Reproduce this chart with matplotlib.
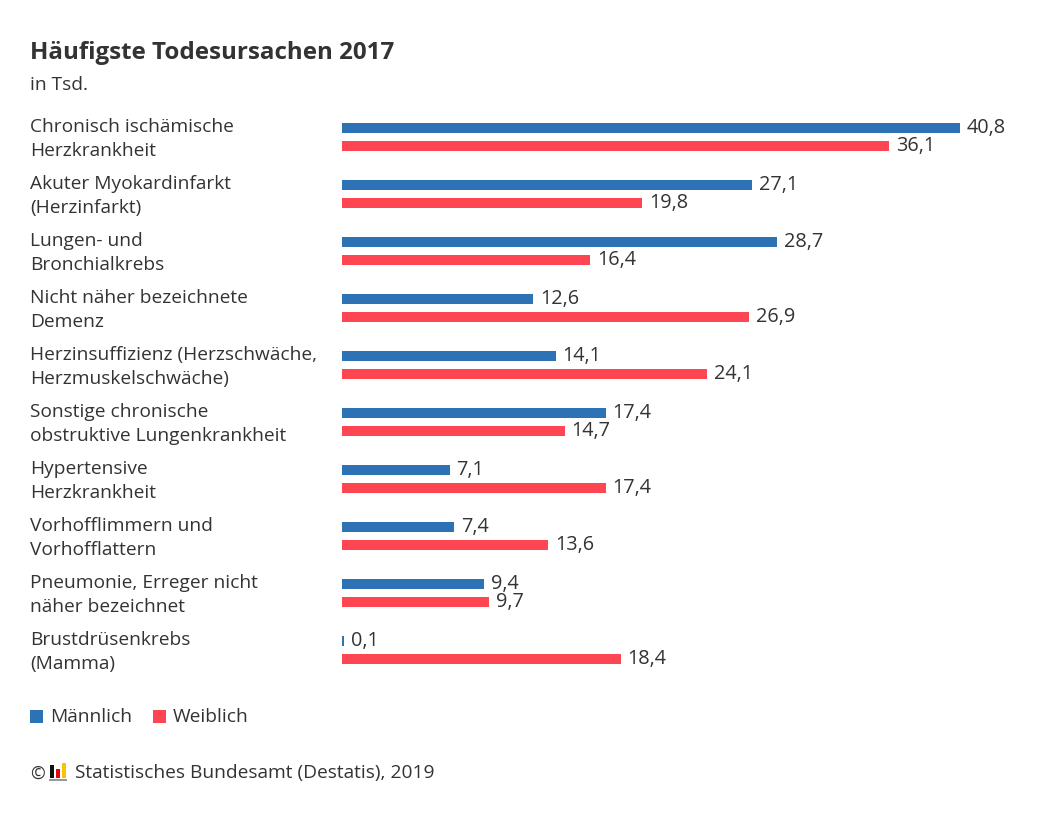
import matplotlib
matplotlib.use("Agg")
import matplotlib.pyplot as plt
import matplotlib.transforms as mtransforms
from matplotlib.patches import Rectangle

categories = [
    "Chronisch ischämische\nHerzkrankheit",
    "Akuter Myokardinfarkt\n(Herzinfarkt)",
    "Lungen- und\nBronchialkrebs",
    "Nicht näher bezeichnete\nDemenz",
    "Herzinsuffizienz (Herzschwäche,\nHerzmuskelschwäche)",
    "Sonstige chronische\nobstruktive Lungenkrankheit",
    "Hypertensive\nHerzkrankheit",
    "Vorhofflimmern und\nVorhofflattern",
    "Pneumonie, Erreger nicht\nnäher bezeichnet",
    "Brustdrüsenkrebs\n(Mamma)",
]
maennlich = [40.8, 27.1, 28.7, 12.6, 14.1, 17.4, 7.1, 7.4, 9.4, 0.1]
weiblich = [36.1, 19.8, 16.4, 26.9, 24.1, 14.7, 17.4, 13.6, 9.7, 18.4]

BLUE = "#2e72b6"
RED = "#fd4651"
TXT = "#333333"
FONT = "Open Sans"
plt.rcParams['font.family'] = [FONT, 'DejaVu Sans']

W, H = 1053, 816
fig = plt.figure(figsize=(W / 100, H / 100), dpi=100)

def fx(px):
    return px / W

def fy(py):
    return 1 - py / H

ax_left, ax_right = 342, 1000
ax_top, ax_bot = 100, 680
ax = fig.add_axes([fx(ax_left), fy(ax_bot), fx(ax_right - ax_left), (ax_bot - ax_top) / H])
scale = (960 - 342) / 40.8
ax.set_xlim(0, (ax_right - ax_left) / scale)
gap = 57.0
c0 = 137.0
ax.set_ylim((ax_bot - c0) / gap, (ax_top - c0) / gap)
ax.axis("off")

off = 9 / gap
bh = 10 / gap
n = len(categories)
VFS = 14.3
for i in range(n):
    ax.barh(i - off, maennlich[i], height=bh, color=BLUE, linewidth=0)
    ax.barh(i + off, weiblich[i], height=bh, color=RED, linewidth=0)
    ax.annotate(f"{maennlich[i]:.1f}".replace(".", ","), (maennlich[i], i - off),
                xytext=(7, 0), textcoords="offset pixels", va="center", ha="left",
                fontsize=VFS, color=TXT)
    ax.annotate(f"{weiblich[i]:.1f}".replace(".", ","), (weiblich[i], i + off),
                xytext=(7, 0), textcoords="offset pixels", va="center", ha="left",
                fontsize=VFS, color=TXT)

LFS = 13.8
tr = mtransforms.blended_transform_factory(fig.transFigure, ax.transData)
for i, lab in enumerate(categories):
    ax.text(fx(30), i + 1.8 / gap, lab, transform=tr, ha="left", va="center", fontsize=LFS,
            color=TXT, linespacing=1.42)

fig.text(fx(30), fy(53), "Häufigste Todesursachen 2017", fontsize=17.4, fontweight="bold",
         color=TXT, ha="left", va="center")
fig.text(fx(30), fy(85), "in Tsd.", fontsize=LFS, color=TXT, ha="left", va="center")

# legend
for x0, tx, col, lab in [(30, 50, BLUE, "Männlich"), (153, 173, RED, "Weiblich")]:
    fig.patches.append(Rectangle((fx(x0), fy(723)), fx(13), 13 / H, transform=fig.transFigure,
                                 color=col, linewidth=0))
    fig.text(fx(tx), fy(717), lab, fontsize=LFS, color=TXT, ha="left", va="center")

# footer
fig.text(fx(30), fy(774), "©", fontsize=LFS - 1, color=TXT, ha="left", va="center")
for x0, w, top, col in [(50, 4, 765, "#111111"), (56, 4, 769, "#e30613"), (62, 4, 763, "#f9c300")]:
    fig.patches.append(Rectangle((fx(x0), fy(778)), fx(w), (778 - top) / H,
                                 transform=fig.transFigure, color=col, linewidth=0))
fig.patches.append(Rectangle((fx(49), fy(781)), fx(18), 2 / H, transform=fig.transFigure,
                             color="#999999", linewidth=0))
fig.text(fx(75), fy(773), "Statistisches Bundesamt (Destatis), 2019", fontsize=LFS,
         color=TXT, ha="left", va="center")

fig.savefig("out.png", dpi=100, facecolor="white")
